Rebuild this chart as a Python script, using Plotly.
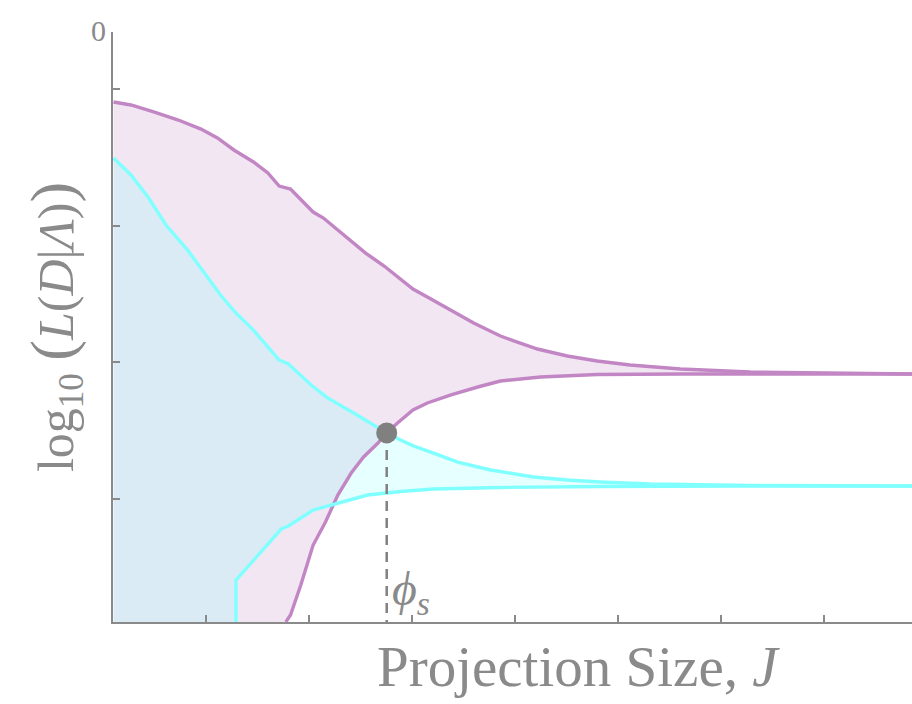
import plotly.graph_objects as go

# ---- data (J = projection size, Y = log10 likelihood, arbitrary units) ----
purple_upper_J = [1, 2.7, 4.9, 7.3, 9.5, 11.1, 12.7, 14.6, 16.0, 17.1, 18.2, 19.2, 20.4, 21.4, 23.4,
                  25.5, 27.3, 30.1, 31.5, 34.5, 36.0, 37.4, 38.6, 39.9, 42.2, 45.1, 48.0, 51.2, 56.1,
                  62.9, 72.6, 78.6]
purple_upper_Y = [-0.512, -0.534, -0.585, -0.644, -0.710, -0.775, -0.863, -0.951, -1.031, -1.127,
                  -1.149, -1.222, -1.317, -1.361, -1.485, -1.617, -1.712, -1.880, -1.939, -2.070,
                  -2.129, -2.180, -2.224, -2.260, -2.319, -2.370, -2.407, -2.436, -2.465, -2.487,
                  -2.498, -2.502]

purple_lower_J = [17.75, 18.2, 19.2, 20.4, 21.6, 22.8, 24.1, 25.3, 26.7, 27.55, 28.6, 30.1, 31.5,
                  33.8, 36.4, 38.6, 42.5, 48.0, 56.1, 78.6]
purple_lower_Y = [-4.316, -4.265, -4.045, -3.753, -3.584, -3.387, -3.226, -3.109, -3.007, -2.933,
                  -2.860, -2.765, -2.714, -2.655, -2.597, -2.553, -2.524, -2.505, -2.502, -2.502]

cyan_upper_J = [1, 2.7, 4.35, 6.1, 8.2, 10.3, 11.4, 12.9, 14.5, 17.1, 18.0, 20.2, 21.8, 24.35,
                26.3, 27.55, 28.9, 30.2, 32.1, 34.45, 37.65, 41.8, 45.1, 48.3, 53.2, 62.9, 78.6]
cyan_upper_Y = [-0.922, -1.046, -1.207, -1.412, -1.595, -1.814, -1.924, -2.056, -2.173, -2.400,
                -2.429, -2.582, -2.677, -2.787, -2.875, -2.933, -2.985, -3.029, -3.080, -3.146,
                -3.204, -3.255, -3.277, -3.292, -3.307, -3.317, -3.321]

cyan_lower_J = [12.9, 12.9, 17.3, 18.0, 20.4, 23.1, 25.7, 28.9, 32.1, 38.6, 48.3, 62.9, 78.6]
cyan_lower_Y = [-4.316, -4.009, -3.636, -3.614, -3.497, -3.438, -3.387, -3.361, -3.343, -3.332,
                -3.325, -3.321, -3.321]

phi_s_J = 27.55
phi_s_Y = -2.933

x_range = [0.95, 78.6]
y_range = [-4.316, 0.0]
x_ticks = [10, 20, 30, 40, 50, 60, 70]
y_ticks = [-0.417, -1.417, -2.417, -3.417]

# ---- styles ----
GRAY = "#8a8a8a"
PURPLE = "#c286c4"
CYAN = "#80ffff"
FONT = "Liberation Serif, DejaVu Serif, serif"
y_floor = y_range[0]

fig = go.Figure()

# purple band
fig.add_trace(go.Scatter(
    x=purple_upper_J + purple_lower_J[::-1] + [purple_upper_J[0]],
    y=purple_upper_Y + purple_lower_Y[::-1] + [y_floor],
    fill="toself", fillcolor="#f2e6f3", line=dict(width=0), mode="lines",
    hoverinfo="skip", showlegend=False))

# cyan band
fig.add_trace(go.Scatter(
    x=cyan_upper_J + cyan_lower_J[::-1] + [cyan_upper_J[0]],
    y=cyan_upper_Y + cyan_lower_Y[::-1] + [y_floor],
    fill="toself", fillcolor="rgba(128,255,255,0.2)", line=dict(width=0), mode="lines",
    hoverinfo="skip", showlegend=False))

# purple lines
for xs, ys in [(purple_upper_J, purple_upper_Y), (purple_lower_J, purple_lower_Y)]:
    fig.add_trace(go.Scatter(x=xs, y=ys, mode="lines",
                             line=dict(color=PURPLE, width=3.4), showlegend=False))
# cyan lines
for xs, ys in [(cyan_upper_J, cyan_upper_Y), (cyan_lower_J, cyan_lower_Y)]:
    fig.add_trace(go.Scatter(x=xs, y=ys, mode="lines",
                             line=dict(color=CYAN, width=3.4), showlegend=False))

# dashed drop line
fig.add_trace(go.Scatter(x=[phi_s_J, phi_s_J], y=[phi_s_Y, y_floor], mode="lines",
                         line=dict(color="#808080", width=2.5, dash="10px,7px"),
                         showlegend=False))
# crossing point
fig.add_trace(go.Scatter(x=[phi_s_J], y=[phi_s_Y], mode="markers",
                         marker=dict(color="#808080", size=21), showlegend=False))

fig.add_annotation(x=phi_s_J, y=y_floor, xref="x", yref="y", xanchor="left", yanchor="bottom",
                   xshift=3, yshift=-2, showarrow=False,
                   text="<i>ϕ</i><sub><i>s</i></sub>",
                   font=dict(family=FONT, size=48, color=GRAY))

fig.add_annotation(x=0, y=y_range[1], xref="paper", yref="y", xanchor="right", yanchor="middle",
                   xshift=-5, yshift=2, showarrow=False, text="0",
                   font=dict(family=FONT, size=30, color=GRAY))

# x axis title (the original axis runs past the crop, so its title sits right of centre)
fig.add_annotation(x=0.582, y=0, xref="paper", yref="paper", xanchor="center", yanchor="top",
                   yshift=-11, showarrow=False, text="Projection Size, <i>J</i>",
                   font=dict(family=FONT, size=57, color=GRAY))

fig.update_layout(
    width=912, height=704,
    margin=dict(l=113, r=0, t=32, b=82),
    paper_bgcolor="white", plot_bgcolor="white",
    xaxis=dict(range=x_range, tickvals=x_ticks, showticklabels=False, ticks="inside",
               ticklen=7, tickwidth=1.5, tickcolor=GRAY, showline=True, linecolor=GRAY,
               linewidth=2, showgrid=False, zeroline=False),
    yaxis=dict(range=y_range, tickvals=y_ticks, showticklabels=False, ticks="inside",
               ticklen=7, tickwidth=1.5, tickcolor=GRAY, showline=True, linecolor=GRAY,
               linewidth=2, showgrid=False, zeroline=False,
               title=dict(text="log<sub>10</sub> <span style='font-size:62px'>(</span><i>L</i>(<i>D</i>|<i>Λ</i>)<span style='font-size:62px'>)</span>",
                          standoff=22,
                          font=dict(family=FONT, size=50, color=GRAY))),
)

fig.write_html("out.html", config={"displayModeBar": False},
               post_script="document.body.style.margin='0px';document.body.style.overflow='hidden';")
